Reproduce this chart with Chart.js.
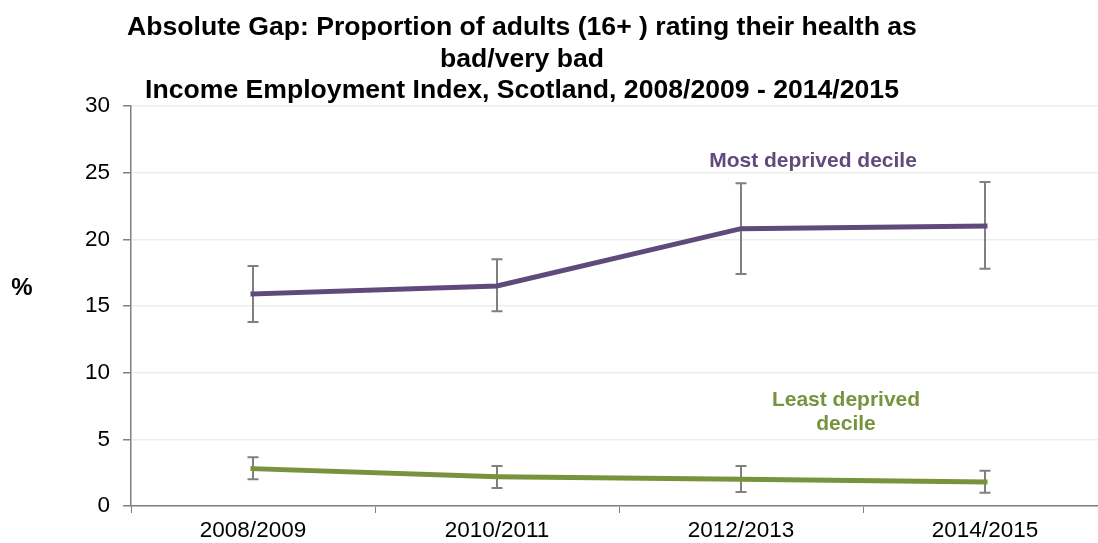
<!DOCTYPE html>
<html>
<head>
<meta charset="utf-8">
<script src="https://cdn.jsdelivr.net/npm/chart.js@4.4.1/dist/chart.umd.min.js"></script>
<style>
  html, body { margin: 0; padding: 0; background: #fff; overflow: hidden; }
  #wrap { position: relative; width: 1110px; height: 543px; }
</style>
</head>
<body>
<div id="wrap"><canvas id="gapChart"></canvas></div>
<script>
// --- Data ---
const years = ['2008/2009', '2010/2011', '2012/2013', '2014/2015'];

const mostDeprived = [15.9, 16.5, 20.8, 21.0];
const mostLower = [13.8, 14.6, 17.4, 17.8];
const mostUpper = [18.0, 18.5, 24.2, 24.3];

const leastDeprived = [2.8, 2.2, 2.0, 1.8];
const leastLower = [2.0, 1.35, 1.05, 1.0];
const leastUpper = [3.65, 3.0, 3.0, 2.65];

const yTicks = [0, 5, 10, 15, 20, 25, 30];

const titleLines = [
    'Absolute Gap: Proportion of adults (16+ ) rating their health as',
    'bad/very bad',
    'Income Employment Index, Scotland, 2008/2009 - 2014/2015'
];

const FONT = '"Liberation Sans", Arial, sans-serif';
const PURPLE = '#604A7B';
const GREEN = '#77933C';

// Error bars drawn under the lines, positioned through the chart scales
const errorBars = {
    id: 'errorBars',
    beforeDatasetsDraw(chart) {
        const { ctx, scales: { x, y } } = chart;
        const ranges = [[mostLower, mostUpper], [leastLower, leastUpper]];
        ctx.save();
        ctx.strokeStyle = '#808080';
        ctx.lineWidth = 2;
        ranges.forEach(([lo, hi]) => {
            lo.forEach((v, i) => {
                const px = x.getPixelForValue(i);
                const yLo = y.getPixelForValue(v);
                const yHi = y.getPixelForValue(hi[i]);
                ctx.beginPath();
                ctx.moveTo(px, yLo); ctx.lineTo(px, yHi);
                ctx.moveTo(px - 5.5, yLo); ctx.lineTo(px + 5.5, yLo);
                ctx.moveTo(px - 5.5, yHi); ctx.lineTo(px + 5.5, yHi);
                ctx.stroke();
            });
        });
        ctx.restore();
    }
};

// Title, axis label and series annotations
const textLayer = {
    id: 'textLayer',
    afterDraw(chart) {
        const ctx = chart.ctx;
        ctx.save();
        ctx.textAlign = 'center';
        ctx.textBaseline = 'middle';
        ctx.fillStyle = '#000';
        ctx.font = 'bold 26.6px ' + FONT;
        titleLines.forEach((t, i) => ctx.fillText(t, 522, 28 + i * 31.5));

        ctx.font = 'bold 24px ' + FONT;
        ctx.fillText('%', 22, 288);

        ctx.font = 'bold 21px ' + FONT;
        ctx.fillStyle = PURPLE;
        ctx.fillText('Most deprived decile', 813, 161);
        ctx.fillStyle = GREEN;
        ctx.fillText('Least deprived', 846, 400);
        ctx.fillText('decile', 846, 424);
        ctx.restore();
    }
};

new Chart(document.getElementById('gapChart'), {
    type: 'line',
    data: {
        labels: years,
        datasets: [
            { label: 'Most deprived decile', data: mostDeprived, borderColor: PURPLE, backgroundColor: PURPLE,
              borderWidth: 5, pointRadius: 0, tension: 0, borderCapStyle: 'square' },
            { label: 'Least deprived decile', data: leastDeprived, borderColor: GREEN, backgroundColor: GREEN,
              borderWidth: 5, pointRadius: 0, tension: 0, borderCapStyle: 'square' }
        ]
    },
    options: {
        responsive: true,
        maintainAspectRatio: false,
        animation: false,
        layout: { padding: { top: 106, left: 0, right: 3, bottom: 0 } },
        plugins: { legend: { display: false }, tooltip: { enabled: false }, title: { display: false } },
        scales: {
            x: {
                offset: true,
                grid: { display: true, drawOnChartArea: false, offset: true, tickLength: 7, tickColor: '#808080' },
                border: { display: true, color: '#808080', width: 1.5 },
                ticks: { color: '#000', font: { family: FONT, size: 22.5 }, padding: 4, maxRotation: 0 },
                afterFit(s) { s.height = 37; }
            },
            y: {
                min: 0, max: 30,
                afterBuildTicks(s) { s.ticks = yTicks.map(v => ({ value: v })); },
                grid: { color: '#eeeeee', tickLength: 8, tickColor: '#808080', lineWidth: 1.5 },
                border: { display: true, color: '#808080', width: 1.5 },
                ticks: { color: '#000', font: { family: FONT, size: 22.5 }, padding: 13 },
                afterFit(s) { s.width = 131; }
            }
        }
    },
    plugins: [errorBars, textLayer]
});
</script>
</body>
</html>
